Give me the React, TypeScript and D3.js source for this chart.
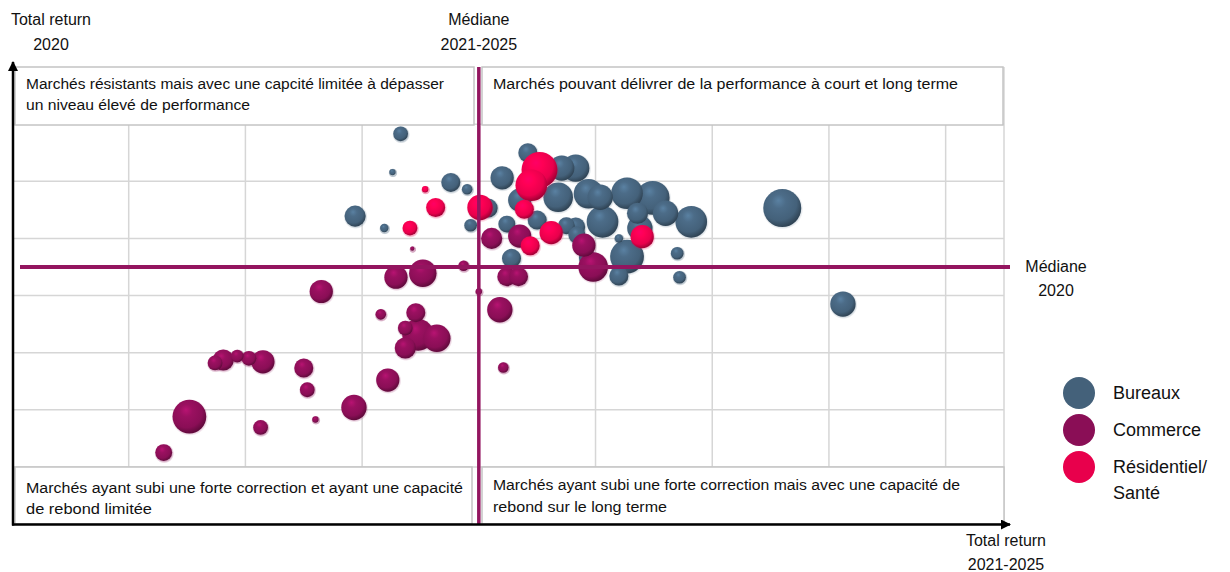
import React from "react";
import * as d3 from "d3";

// ---- DATA ----
// x: total return 2021-2025 (index units), y: total return 2020 (index units), s: bubble size
const bureaux = [
  { x: 3.33, y: 6.83, s: 49 }, { x: 3.26, y: 6.16, s: 9 }, { x: 2.94, y: 5.39, s: 100 },
  { x: 3.19, y: 5.18, s: 16 }, { x: 3.76, y: 5.98, s: 81 }, { x: 3.9, y: 5.86, s: 25 },
  { x: 3.93, y: 5.23, s: 36 }, { x: 4.08, y: 5.53, s: 81 }, { x: 4.2, y: 6.06, s: 121 },
  { x: 4.42, y: 6.5, s: 81 }, { x: 4.71, y: 6.23, s: 144 }, { x: 4.83, y: 6.23, s: 169 },
  { x: 4.35, y: 5.67, s: 121 }, { x: 4.68, y: 5.72, s: 196 }, { x: 4.94, y: 5.78, s: 196 },
  { x: 5.04, y: 5.72, s: 144 }, { x: 5.27, y: 5.79, s: 225 }, { x: 5.49, y: 5.71, s: 256 },
  { x: 5.6, y: 5.44, s: 144 }, { x: 5.36, y: 5.44, s: 100 }, { x: 5.82, y: 5.29, s: 225 },
  { x: 5.06, y: 5.29, s: 225 }, { x: 5.38, y: 5.18, s: 144 }, { x: 4.24, y: 5.25, s: 64 },
  { x: 4.5, y: 5.32, s: 81 }, { x: 4.75, y: 5.22, s: 64 }, { x: 4.83, y: 5.2, s: 81 },
  { x: 4.84, y: 5.06, s: 64 }, { x: 5.2, y: 5.0, s: 16 }, { x: 5.7, y: 4.74, s: 36 },
  { x: 5.27, y: 4.68, s: 256 }, { x: 5.2, y: 4.34, s: 81 }, { x: 5.72, y: 4.32, s: 36 },
  { x: 4.28, y: 4.65, s: 81 }, { x: 6.6, y: 5.53, s: 324 }, { x: 7.12, y: 3.85, s: 144 },
  { x: 4.93, y: 4.66, s: 64 },
];
const commerce = [
  { x: 2.65, y: 4.07, s: 121 }, { x: 3.29, y: 4.32, s: 121 }, { x: 3.52, y: 4.39, s: 169 },
  { x: 3.16, y: 3.67, s: 25 }, { x: 3.46, y: 3.7, s: 81 }, { x: 3.37, y: 3.43, s: 49 },
  { x: 3.48, y: 3.31, s: 225 }, { x: 3.64, y: 3.25, s: 169 }, { x: 3.37, y: 3.08, s: 100 },
  { x: 3.22, y: 2.52, s: 121 }, { x: 2.93, y: 2.04, s: 144 }, { x: 2.6, y: 1.83, s: 9 },
  { x: 2.13, y: 1.69, s: 49 }, { x: 1.52, y: 1.88, s: 256 }, { x: 1.3, y: 1.25, s: 64 },
  { x: 2.5, y: 2.73, s: 81 }, { x: 2.53, y: 2.35, s: 49 }, { x: 2.15, y: 2.84, s: 121 },
  { x: 2.03, y: 2.9, s: 49 }, { x: 1.93, y: 2.94, s: 36 }, { x: 1.81, y: 2.87, s: 100 },
  { x: 1.74, y: 2.82, s: 49 }, { x: 4.18, y: 3.75, s: 144 }, { x: 4.21, y: 2.74, s: 25 },
  { x: 4.0, y: 4.07, s: 9 }, { x: 4.24, y: 4.33, s: 81 }, { x: 4.34, y: 4.33, s: 81 },
  { x: 3.43, y: 4.82, s: 4 }, { x: 3.87, y: 4.52, s: 25 }, { x: 4.11, y: 5.0, s: 100 },
  { x: 4.35, y: 5.04, s: 121 }, { x: 4.9, y: 4.88, s: 121 }, { x: 4.98, y: 4.5, s: 196 },
];
const residentiel = [
  { x: 4.52, y: 6.2, s: 289 }, { x: 4.45, y: 5.93, s: 225 }, { x: 4.01, y: 5.54, s: 144 },
  { x: 3.63, y: 5.54, s: 81 }, { x: 3.41, y: 5.18, s: 49 }, { x: 3.54, y: 5.86, s: 9 },
  { x: 4.39, y: 5.51, s: 81 }, { x: 4.62, y: 5.1, s: 121 }, { x: 4.44, y: 4.87, s: 81 },
  { x: 5.4, y: 5.03, s: 121 },
];
const medianX = 4.0;
const medianY = 4.5;
const xGridTicks = [1, 2, 3, 4, 5, 6, 7, 8];
const yGridTicks = [1, 2, 3, 4, 5, 6, 7];
const seriesNames = ["Bureaux", "Commerce", "Résidentiel/Santé"];
const seriesColors = ["#44617a", "#8a0e56", "#e8004c"];
const quadrantTexts = [
  ["Marchés résistants mais avec une capcité limitée à dépasser", "un niveau élevé de performance"],
  ["Marchés pouvant délivrer de la performance à court et long terme"],
  ["Marchés ayant subi une forte correction et ayant une capacité", "de rebond limitée"],
  ["Marchés ayant subi une forte correction mais avec une capacité de", "rebond sur le long terme"],
];

const W = 1230;
const H = 572;
const FONT = "'Liberation Sans', Arial, sans-serif";

export default function App() {
  const x = d3.scaleLinear().domain([0, 8.5]).range([12, 1004]);
  const y = d3.scaleLinear().domain([0, 8]).range([524, 67]);
  const r = d3.scaleSqrt().domain([0, 324]).range([0, 19]);
  const all = [bureaux, commerce, residentiel];
  const medColor = "#93155f";
  const grid = "#d6d6d6";
  const boxStroke = "#c4c4c4";

  const boxes = [
    { x0: 15, x1: 474, y0: 67, y1: 125, tx: 26, ty: [89, 110], tl: [418, 224] },
    { x0: 482, x1: 1003, y0: 67, y1: 125, tx: 493, ty: [89], tl: [465] },
    { x0: 15, x1: 472, y0: 467, y1: 524, tx: 26, ty: [493, 514], tl: [437, 126] },
    { x0: 482, x1: 1004, y0: 467, y1: 524, tx: 493, ty: [490, 512], tl: [467, 174] },
  ];

  const shade = (c: string, k: number) => {
    const col = d3.color(c)!;
    return k > 0 ? col.brighter(k).formatHex() : col.darker(-k).formatHex();
  };

  return (
    <svg width={W} height={H} style={{ position: "absolute", left: 0, top: 0, background: "#fff" }} fontFamily={FONT}>
      <defs>
        {seriesColors.map((c, i) => (
          <radialGradient key={i} id={`g${i}`} cx="0.42" cy="0.38" r="0.62" fx="0.4" fy="0.3">
            <stop offset="0" stopColor={shade(c, 0.8)} />
            <stop offset="0.3" stopColor={shade(c, 0.3)} />
            <stop offset="0.75" stopColor={c} />
            <stop offset="1" stopColor={shade(c, -1)} />
          </radialGradient>
        ))}
        {seriesColors.map((c, i) => (
          <radialGradient key={"h" + i} id={`h${i}`} cx="0.5" cy="0.5" r="0.5">
            <stop offset="0.8" stopColor={c} stopOpacity={0.35} />
            <stop offset="1" stopColor={c} stopOpacity={0} />
          </radialGradient>
        ))}
        <marker id="arr" viewBox="0 0 10 10" refX="9" refY="5" markerWidth="4" markerHeight="4" orient="auto">
          <path d="M0,0 L10,5 L0,10 z" fill="#000" />
        </marker>
      </defs>

      {/* grid */}
      {xGridTicks.map((t) => (
        <line key={"gx" + t} x1={x(t)} x2={x(t)} y1={67} y2={524} stroke={grid} strokeWidth={1.5} />
      ))}
      {yGridTicks.map((t) => (
        <line key={"gy" + t} x1={12} x2={1004} y1={y(t)} y2={y(t)} stroke={grid} strokeWidth={1.5} />
      ))}
      <line x1={1004} x2={1004} y1={67} y2={524} stroke={grid} strokeWidth={1.5} />

      {/* quadrant boxes */}
      {boxes.map((b, i) => (
        <g key={"b" + i}>
          <rect x={b.x0} y={b.y0} width={b.x1 - b.x0} height={b.y1 - b.y0} fill="#fff" stroke={boxStroke} strokeWidth={1.5} />
          {quadrantTexts[i].map((t, j) => (
            <text key={j} x={b.tx} y={b.ty[j]} fontSize={14} fill="#111" textLength={b.tl[j]} lengthAdjust="spacingAndGlyphs">
              {t}
            </text>
          ))}
        </g>
      ))}

      {/* bubbles */}
      {all.map((ser, si) => (
        <g key={"s" + si}>
          {[...ser].sort((a, b) => b.s - a.s).map((d, i) => (
            <g key={i}>
              <circle cx={x(d.x) + 0.5} cy={y(d.y) + 0.8} r={r(d.s) + 1.5} fill={`url(#h${si})`} />
              <circle cx={x(d.x)} cy={y(d.y)} r={r(d.s)} fill={`url(#g${si})`} />
            </g>
          ))}
        </g>
      ))}

      {/* medians */}
      <line x1={x(medianX)} x2={x(medianX)} y1={67} y2={524} stroke={medColor} strokeWidth={3.5} />
      <line x1={20} x2={1010} y1={y(medianY)} y2={y(medianY)} stroke={medColor} strokeWidth={4} />

      {/* axes */}
      <line x1={13} x2={13} y1={525.5} y2={62} stroke="#000" strokeWidth={2.5} markerEnd="url(#arr)" />
      <line x1={12} x2={1010} y1={524.5} y2={524.5} stroke="#000" strokeWidth={2.5} markerEnd="url(#arr)" />

      {/* axis / median labels */}
      <g fontSize={16} fill="#111" textAnchor="middle">
        <text x={51} y={25}>Total return</text>
        <text x={51} y={50}>2020</text>
        <text x={x(medianX)} y={25}>Médiane</text>
        <text x={x(medianX)} y={50}>2021-2025</text>
        <text x={1056} y={272}>Médiane</text>
        <text x={1056} y={296}>2020</text>
        <text x={1006} y={546}>Total return</text>
        <text x={1006} y={570}>2021-2025</text>
      </g>

      {/* legend */}
      {seriesColors.map((c, i) => (
        <circle key={"lc" + i} cx={1079} cy={393 + i * 37} r={16} fill={c} />
      ))}
      <g fontSize={18} fill="#111">
        <text x={1113} y={399}>{seriesNames[0]}</text>
        <text x={1113} y={436}>{seriesNames[1]}</text>
        <text x={1113} y={473}>Résidentiel/</text>
        <text x={1113} y={499}>Santé</text>
      </g>
    </svg>
  );
}
